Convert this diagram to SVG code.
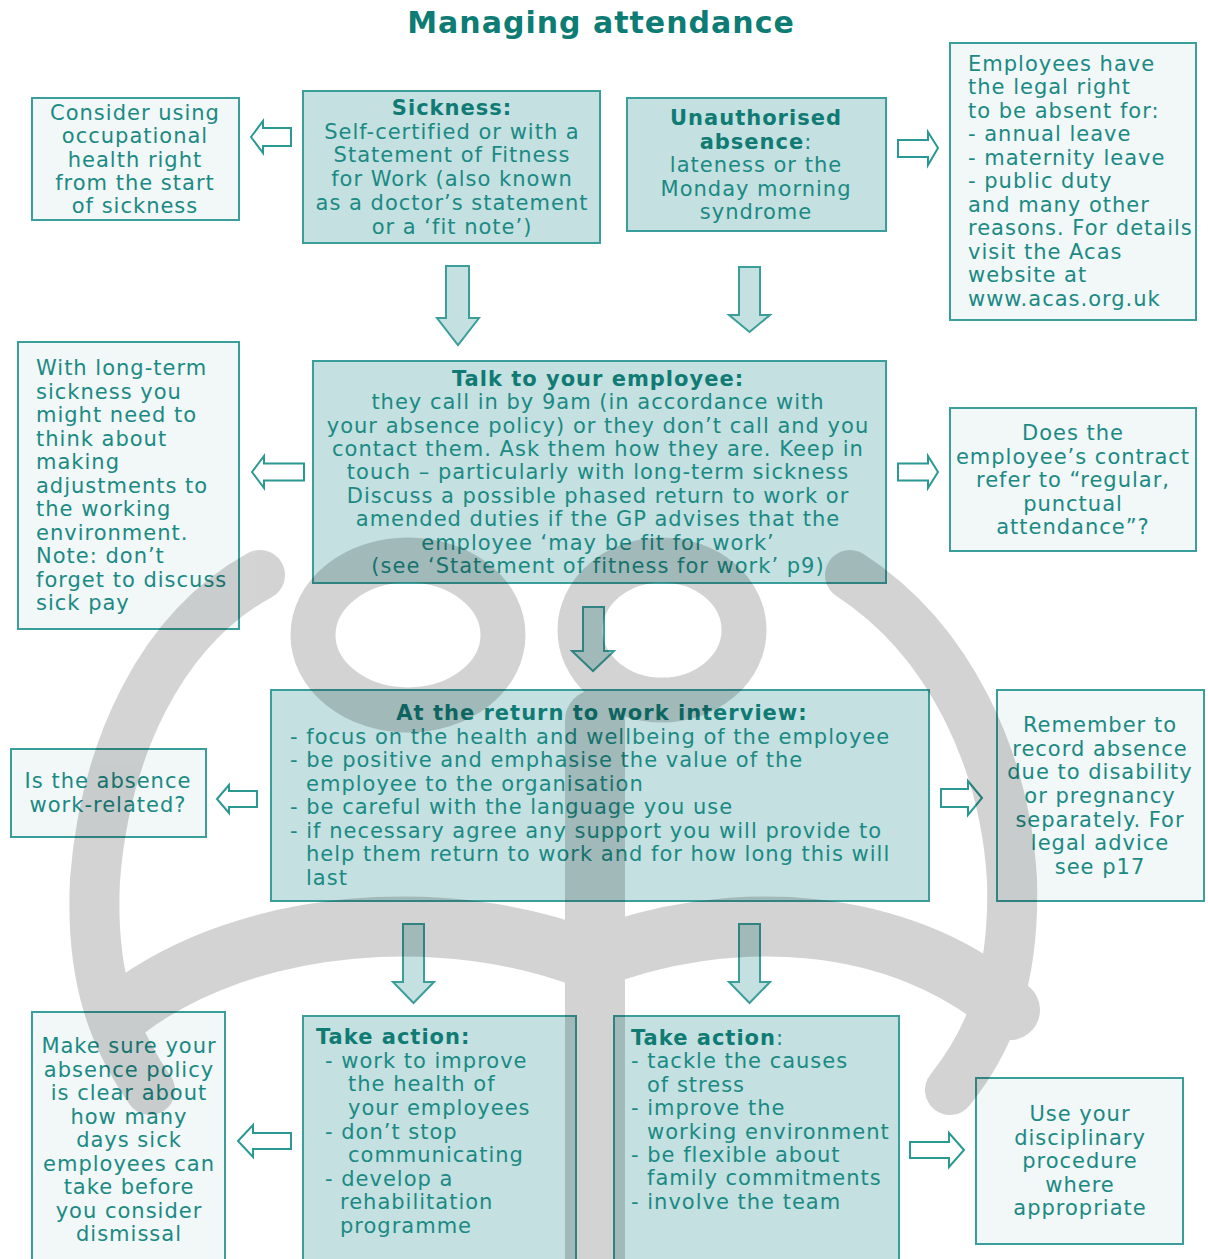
<svg xmlns="http://www.w3.org/2000/svg" width="1208" height="1259" viewBox="0 0 1208 1259">
  <style>
    .t { font-family: "DejaVu Sans", Verdana, sans-serif; font-size: 21px; letter-spacing: 1px; fill: #1a8a85; }
    .c { text-anchor: middle; }
    .b { font-weight: bold; fill: #0f7b74; }
    .title { font-family: "DejaVu Sans", Verdana, sans-serif; font-size: 30px; font-weight: bold; letter-spacing: 1px; fill: #0d7c74; text-anchor: middle; }
    .main { fill: #c4e0e0; stroke: #3a9f9b; stroke-width: 2; }
    .side { fill: #f2f7f7; stroke: #3a9f9b; stroke-width: 2; }
    .ha { fill: #ffffff; stroke: #2a9893; stroke-width: 2; stroke-linejoin: miter; }
    .da { fill: #c4e0e0; stroke: #3a9f9b; stroke-width: 2; stroke-linejoin: miter; }
  </style>

  <rect width="1208" height="1259" fill="#ffffff"/>

  <text class="title" x="601" y="33">Managing attendance</text>

  <!-- connectors: block arrows between the boxes -->
  <g id="connectors">
    <path class="ha" d="M251,137 L263,121 L263,128 L291,128 L291,146 L263,146 L263,153 Z"/>
    <path class="ha" d="M938,148 L928,132 L928,140 L898,140 L898,157 L928,157 L928,165 Z"/>
    <path class="ha" d="M252,472 L264,456 L264,463.5 L304,463.5 L304,480.5 L264,480.5 L264,488 Z"/>
    <path class="ha" d="M938,472 L928,456 L928,463.5 L898,463.5 L898,480.5 L928,480.5 L928,488 Z"/>
    <path class="ha" d="M217,799 L229,785 L229,791 L257,791 L257,807 L229,807 L229,813 Z"/>
    <path class="ha" d="M982,798 L968,781 L968,789 L941,789 L941,807 L968,807 L968,815 Z"/>
    <path class="ha" d="M238,1141 L253,1125 L253,1133 L291,1133 L291,1149 L253,1149 L253,1157 Z"/>
    <path class="ha" d="M964,1150 L949,1133 L949,1142 L910,1142 L910,1158 L949,1158 L949,1167 Z"/>

    <path class="da" d="M446,266 L469,266 L469,318 L479,318 L458,345 L437,318 L446,318 Z"/>
    <path class="da" d="M739,267 L760,267 L760,315 L770,315 L749.5,332 L729,315 L739,315 Z"/>
    <path class="da" d="M583,607 L604,607 L604,651 L614,651 L593,671 L572,651 L583,651 Z"/>
    <path class="da" d="M403,924 L424,924 L424,982 L434,982 L413.5,1003 L393,982 L403,982 Z"/>
    <path class="da" d="M739,924 L760,924 L760,982 L770,982 L749.5,1003 L729,982 L739,982 Z"/>
  </g>

  <g id="occupational-health">
    <rect class="side" x="32" y="98" width="207" height="122"/>
    <text class="t c" x="135" y="120">Consider using</text>
    <text class="t c" x="135" y="143">occupational</text>
    <text class="t c" x="135" y="167">health right</text>
    <text class="t c" x="135" y="190">from the start</text>
    <text class="t c" x="135" y="213">of sickness</text>
  </g>

  <g id="sickness">
    <rect class="main" x="303" y="91" width="297" height="152"/>
    <text class="t c b" x="452" y="115">Sickness:</text>
    <text class="t c" x="452" y="139">Self-certified or with a</text>
    <text class="t c" x="452" y="162">Statement of Fitness</text>
    <text class="t c" x="452" y="186">for Work (also known</text>
    <text class="t c" x="452" y="210">as a doctor’s statement</text>
    <text class="t c" x="452" y="234">or a ‘fit note’)</text>
  </g>

  <g id="unauthorised">
    <rect class="main" x="627" y="98" width="259" height="133"/>
    <text class="t c b" x="756" y="125">Unauthorised</text>
    <text class="t c" x="756" y="149"><tspan class="b">absence</tspan>:</text>
    <text class="t c" x="756" y="172">lateness or the</text>
    <text class="t c" x="756" y="196">Monday morning</text>
    <text class="t c" x="756" y="219">syndrome</text>
  </g>

  <g id="legal-right">
    <rect class="side" x="950" y="43" width="246" height="277"/>
    <text class="t" x="968" y="71">Employees have</text>
    <text class="t" x="968" y="94">the legal right</text>
    <text class="t" x="968" y="118">to be absent for:</text>
    <text class="t" x="968" y="141">- annual leave</text>
    <text class="t" x="968" y="165">- maternity leave</text>
    <text class="t" x="968" y="188">- public duty</text>
    <text class="t" x="968" y="212">and many other</text>
    <text class="t" x="968" y="235">reasons. For details</text>
    <text class="t" x="968" y="259">visit the Acas</text>
    <text class="t" x="968" y="282">website at</text>
    <text class="t" x="968" y="306">www.acas.org.uk</text>
  </g>

  <g id="talk">
    <rect class="main" x="313" y="361" width="573" height="222"/>
    <text class="t c b" x="598" y="386">Talk to your employee:</text>
    <text class="t c" x="598" y="409">they call in by 9am (in accordance with</text>
    <text class="t c" x="598" y="433">your absence policy) or they don’t call and you</text>
    <text class="t c" x="598" y="456">contact them. Ask them how they are. Keep in</text>
    <text class="t c" x="598" y="479">touch – particularly with long-term sickness</text>
    <text class="t c" x="598" y="503">Discuss a possible phased return to work or</text>
    <text class="t c" x="598" y="526">amended duties if the GP advises that the</text>
    <text class="t c" x="598" y="550">employee ‘may be fit for work’</text>
    <text class="t c" x="598" y="573">(see ‘Statement of fitness for work’ p9)</text>
  </g>

  <g id="long-term">
    <rect class="side" x="18" y="342" width="221" height="287"/>
    <text class="t" x="36" y="375">With long-term</text>
    <text class="t" x="36" y="399">sickness you</text>
    <text class="t" x="36" y="422">might need to</text>
    <text class="t" x="36" y="446">think about</text>
    <text class="t" x="36" y="469">making</text>
    <text class="t" x="36" y="493">adjustments to</text>
    <text class="t" x="36" y="516">the working</text>
    <text class="t" x="36" y="540">environment.</text>
    <text class="t" x="36" y="563">Note: don’t</text>
    <text class="t" x="36" y="587">forget to discuss</text>
    <text class="t" x="36" y="610">sick pay</text>
  </g>

  <g id="contract">
    <rect class="side" x="950" y="408" width="246" height="143"/>
    <text class="t c" x="1073" y="440">Does the</text>
    <text class="t c" x="1073" y="464">employee’s contract</text>
    <text class="t c" x="1073" y="487">refer to “regular,</text>
    <text class="t c" x="1073" y="511">punctual</text>
    <text class="t c" x="1073" y="534">attendance”?</text>
  </g>

  <g id="return-interview">
    <rect class="main" x="271" y="690" width="658" height="211"/>
    <text class="t c b" x="602" y="720">At the return to work interview:</text>
    <text class="t" x="290" y="744">- focus on the health and wellbeing of the employee</text>
    <text class="t" x="290" y="767">- be positive and emphasise the value of the</text>
    <text class="t" x="306" y="791">employee to the organisation</text>
    <text class="t" x="290" y="814">- be careful with the language you use</text>
    <text class="t" x="290" y="838">- if necessary agree any support you will provide to</text>
    <text class="t" x="306" y="861">help them return to work and for how long this will</text>
    <text class="t" x="306" y="885">last</text>
  </g>

  <g id="work-related">
    <rect class="side" x="11" y="749" width="195" height="88"/>
    <text class="t c" x="108" y="788">Is the absence</text>
    <text class="t c" x="108" y="812">work-related?</text>
  </g>

  <g id="record-absence">
    <rect class="side" x="997" y="690" width="207" height="211"/>
    <text class="t c" x="1100" y="732">Remember to</text>
    <text class="t c" x="1100" y="756">record absence</text>
    <text class="t c" x="1100" y="779">due to disability</text>
    <text class="t c" x="1100" y="803">or pregnancy</text>
    <text class="t c" x="1100" y="827">separately. For</text>
    <text class="t c" x="1100" y="850">legal advice</text>
    <text class="t c" x="1100" y="874">see p17</text>
  </g>

  <g id="action-health">
    <rect class="main" x="303" y="1016" width="273" height="260"/>
    <text class="t b" x="316" y="1044">Take action:</text>
    <text class="t" x="325" y="1068">- work to improve</text>
    <text class="t" x="348" y="1091">the health of</text>
    <text class="t" x="348" y="1115">your employees</text>
    <text class="t" x="325" y="1139">- don’t stop</text>
    <text class="t" x="348" y="1162">communicating</text>
    <text class="t" x="325" y="1186">- develop a</text>
    <text class="t" x="340" y="1209">rehabilitation</text>
    <text class="t" x="340" y="1233">programme</text>
  </g>

  <g id="action-stress">
    <rect class="main" x="614" y="1016" width="285" height="260"/>
    <text class="t" x="631" y="1045"><tspan class="b">Take action</tspan>:</text>
    <text class="t" x="631" y="1068">- tackle the causes</text>
    <text class="t" x="647" y="1092">of stress</text>
    <text class="t" x="631" y="1115">- improve the</text>
    <text class="t" x="647" y="1139">working environment</text>
    <text class="t" x="631" y="1162">- be flexible about</text>
    <text class="t" x="647" y="1185">family commitments</text>
    <text class="t" x="631" y="1209">- involve the team</text>
  </g>

  <g id="absence-policy">
    <rect class="side" x="32" y="1012" width="193" height="264"/>
    <text class="t c" x="129" y="1053">Make sure your</text>
    <text class="t c" x="129" y="1077">absence policy</text>
    <text class="t c" x="129" y="1100">is clear about</text>
    <text class="t c" x="129" y="1124">how many</text>
    <text class="t c" x="129" y="1147">days sick</text>
    <text class="t c" x="129" y="1171">employees can</text>
    <text class="t c" x="129" y="1194">take before</text>
    <text class="t c" x="129" y="1218">you consider</text>
    <text class="t c" x="129" y="1241">dismissal</text>
  </g>

  <g id="disciplinary">
    <rect class="side" x="976" y="1078" width="207" height="166"/>
    <text class="t c" x="1080" y="1121">Use your</text>
    <text class="t c" x="1080" y="1145">disciplinary</text>
    <text class="t c" x="1080" y="1168">procedure</text>
    <text class="t c" x="1080" y="1192">where</text>
    <text class="t c" x="1080" y="1215">appropriate</text>
  </g>

  <!-- faint grey emblem printed across the lower half of the page -->
  <g id="emblem" opacity="0.17" fill="none" stroke="#000" stroke-linecap="round">
    <path d="M260,575 C160,630 105,750 95,880 C90,980 115,1040 150,1090" stroke-width="50"/>
    <path d="M850,575 C950,640 1005,760 1012,880 C1015,980 990,1040 950,1090" stroke-width="50"/>
    <ellipse cx="408" cy="635" rx="95" ry="75" stroke-width="45"/>
    <ellipse cx="662" cy="630" rx="82" ry="70" stroke-width="45"/>
    <path d="M125,1010 C250,915 450,905 590,960 C730,905 900,915 1010,1010" stroke-width="60"/>
    <path d="M595,720 L595,1259" stroke-width="60"/>
  </g>
</svg>
